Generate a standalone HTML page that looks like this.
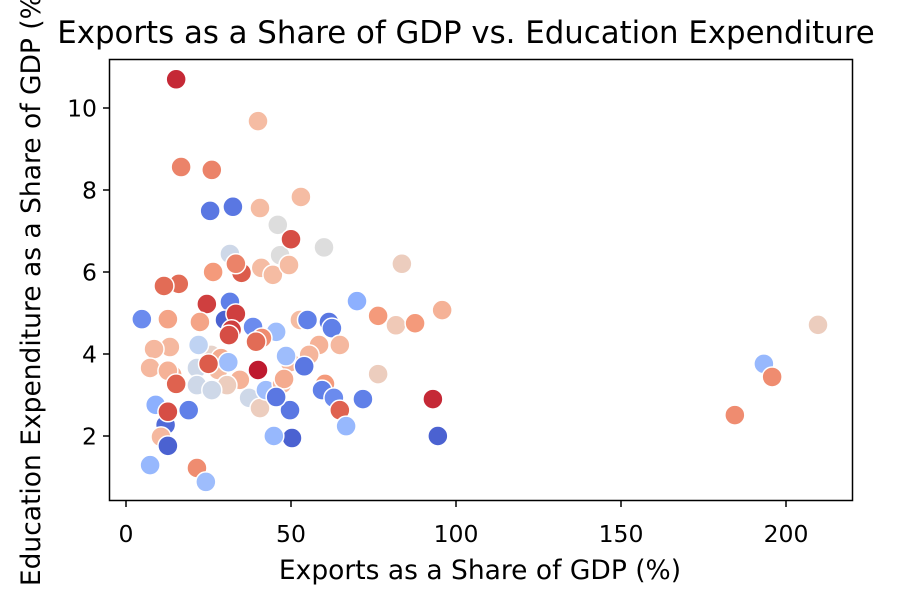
<!DOCTYPE html>
<html><head><meta charset="utf-8"><style>
body{margin:0;background:#fff;}
svg{display:block;font-family:"DejaVu Sans","Liberation Sans",sans-serif;}
</style></head><body>
<svg id="chart" width="923" height="603" viewBox="0 0 923 603">
<rect width="923" height="603" fill="#fff"/>
<text x="466" y="43" font-size="30.8" text-anchor="middle" fill="#000">Exports as a Share of GDP vs. Education Expenditure</text>
<g id="points"></g>
<rect x="109.5" y="59.5" width="743" height="441" fill="none" stroke="#000" stroke-width="1.5"/>
<g id="xaxis"></g>
<g id="yaxis"></g>
<text x="480" y="579" font-size="26.5" text-anchor="middle">Exports as a Share of GDP (%)</text>
<text transform="translate(40,285) rotate(-90)" font-size="26.5" text-anchor="middle">Education Expenditure as a Share of GDP (%)</text>
</svg>
<script>
const xTicks=[0,50,100,150,200];
const yTicks=[2,4,6,8,10];
const exportsX=[15.2,40,16.7,26,25.5,32.4,40.6,46,53,31.5,46.7,50,60,83.6,26.4,33.3,35,41,44.5,49.4,16,11.5,31.5,24.5,4.8,12.7,22.4,30,38.5,45.5,52.7,55,61.5,62.4,70,76.4,81.8,87.6,95.8,64.8,58.5,55.5,49.7,48.5,54,41.2,25.8,28.8,27.9,31,34.5,30.6,21.5,22,13.3,8.5,7.3,14,12.7,21.5,26,37.3,40.6,42.4,47.3,47.9,49.7,50.3,44.8,9,12,10.6,19,12.7,7.3,21.5,24.2,60.3,59.4,63,64.8,66.7,71.8,76.4,93,94.5,184.5,193.3,195.8,209.7,33.3,32,39.4,31.2,25,40,15.2,12.7,33.3,45.5];
const educationY=[10.7,9.68,8.56,8.49,7.49,7.59,7.56,7.15,7.83,6.44,6.41,6.8,6.6,6.2,6.0,6.2,5.98,6.1,5.93,6.17,5.71,5.66,5.27,5.22,4.85,4.85,4.78,4.83,4.66,4.54,4.83,4.83,4.78,4.63,5.29,4.93,4.7,4.75,5.07,4.22,4.22,3.98,3.8,3.95,3.7,4.39,3.98,3.9,3.61,3.8,3.37,3.24,3.66,4.22,4.17,4.12,3.66,3.49,3.59,3.24,3.12,2.93,2.68,3.12,3.27,3.39,2.63,1.95,2.0,2.76,2.27,1.98,2.63,1.76,1.29,1.22,0.88,3.27,3.12,2.93,2.63,2.24,2.9,3.51,2.9,2.0,2.51,3.76,3.44,4.71,4.98,4.59,4.3,4.46,3.76,3.61,3.27,2.59,6.2,2.95];
const hueValue=[0.95,0.65,0.8,0.8,0.1,0.1,0.65,0.5,0.65,0.45,0.5,0.9,0.5,0.58,0.75,0.8,0.88,0.65,0.65,0.65,0.85,0.85,0.12,0.92,0.15,0.72,0.72,0.05,0.15,0.3,0.65,0.12,0.1,0.12,0.25,0.75,0.6,0.75,0.68,0.66,0.68,0.67,0.67,0.3,0.1,0.78,0.55,0.7,0.65,0.3,0.68,0.58,0.45,0.4,0.66,0.66,0.66,0.7,0.68,0.45,0.45,0.45,0.58,0.3,0.66,0.7,0.1,0.05,0.28,0.25,0.07,0.66,0.12,0.05,0.28,0.78,0.3,0.75,0.12,0.15,0.87,0.28,0.12,0.58,0.95,0.05,0.78,0.28,0.78,0.58,0.92,0.92,0.85,0.9,0.88,0.97,0.87,0.9,0.8,0.1];
const xScale=v=>126+v*3.3;
const yScale=v=>518-v*41;
const NS="http://www.w3.org/2000/svg";
const stops=[[59,76,192],[98,130,234],[141,176,254],[184,208,249],[221,221,221],[245,196,173],[244,154,123],[222,96,77],[180,4,38]];
function cmap(t){t=Math.max(0,Math.min(1,t))*8;const i=Math.min(7,Math.floor(t)),f=t-i;const a=stops[i],b=stops[i+1];return 'rgb('+a.map((c,k)=>Math.round(c+(b[k]-c)*f)).join(',')+')';}
const pg=document.getElementById('points');
exportsX.forEach((x,i)=>{const c=document.createElementNS(NS,'circle');
c.setAttribute('cx',xScale(x));c.setAttribute('cy',yScale(educationY[i]));c.setAttribute('r',10);
c.setAttribute('fill',cmap(hueValue[i]));c.setAttribute('stroke','#fff');c.setAttribute('stroke-width',1.5);


pg.appendChild(c);});
const xg=document.getElementById('xaxis');
xTicks.forEach(t=>{const px=xScale(t);
const l=document.createElementNS(NS,'line');l.setAttribute('x1',px);l.setAttribute('x2',px);l.setAttribute('y1',501);l.setAttribute('y2',507);l.setAttribute('stroke','#000');l.setAttribute('stroke-width','1.5');


xg.appendChild(l);
const tx=document.createElementNS(NS,'text');tx.setAttribute('x',px);tx.setAttribute('y',542);tx.setAttribute('font-size','23.5');tx.setAttribute('text-anchor','middle');tx.textContent=t;


xg.appendChild(tx);});
const yg=document.getElementById('yaxis');
yTicks.forEach(t=>{const py=yScale(t);
const l=document.createElementNS(NS,'line');l.setAttribute('x1',103);l.setAttribute('x2',109);l.setAttribute('y1',py);l.setAttribute('y2',py);l.setAttribute('stroke','#000');l.setAttribute('stroke-width','1.5');


yg.appendChild(l);
const tx=document.createElementNS(NS,'text');tx.setAttribute('x',97);tx.setAttribute('y',py+8.5);tx.setAttribute('font-size','23.5');tx.setAttribute('text-anchor','end');tx.textContent=t;


yg.appendChild(tx);});
</script>
</body></html>
